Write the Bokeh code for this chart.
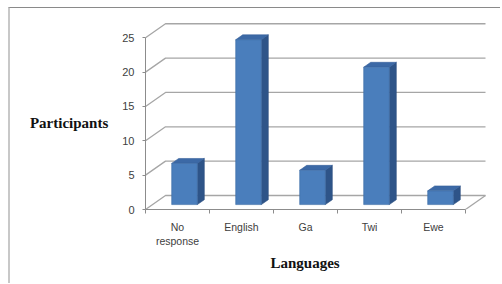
from bokeh.plotting import figure
from bokeh.models import Range1d, FixedTicker, Title
from bokeh.embed import file_html
from bokeh.resources import INLINE

# ---- data ----
categories = ["No response", "English", "Ga", "Twi", "Ewe"]
participants = [6, 24, 5, 20, 2]
y_ticks = [0, 5, 10, 15, 20, 25]
x_tick_labels = ["No\nresponse", "English", "Ga", "Twi", "Ewe"]
x_title = "Languages"
y_title = "Participants"

# ---- geometry (3D look) ----
PX_PER_CAT = 64.0
PX_PER_UNIT = 6.87
FRAME_W = 347
FRAME_H = 193
DX = 20 / PX_PER_CAT      # depth offset of back wall (data units)
DY = 14 / PX_PER_UNIT
F0, F1 = 0.35, 0.70       # bar depth fractions
BW = 0.40                 # bar width in category units
n = len(categories)

p = figure(width=492, height=276, output_backend="svg", toolbar_location=None,
           x_range=Range1d(0, FRAME_W / PX_PER_CAT),
           y_range=Range1d(0, FRAME_H / PX_PER_UNIT),
           min_border_left=135, min_border_right=10, min_border_top=8,
           min_border_bottom=75)
p.styles = {"margin-left": "8px", "margin-top": "7px",
            "border-top": "1px solid #8a8a8a", "border-left": "2px solid #c8c8c8"}
p.outline_line_color = None
p.background_fill_color = "white"
p.border_fill_color = "white"
p.xgrid.visible = False
p.ygrid.visible = False

# walls / gridlines
gx = [[0, DX, n + DX] for v in y_ticks]
gy = [[v, v + DY, v + DY] for v in y_ticks]
gx.append([n, n + DX])
gy.append([0, DY])
p.multi_line(gx, gy, line_color="#a6a6a6", line_width=1.3)

# bars
fx, fy, sx, sy, tx, ty = [], [], [], [], [], []
ddx = (F1 - F0) * DX
ddy = (F1 - F0) * DY
for i, v in enumerate(participants):
    x0 = i + 0.5 - BW / 2 + F0 * DX
    x1 = x0 + BW
    y0 = F0 * DY
    y1 = y0 + v
    fx.append([x0, x1, x1, x0]); fy.append([y0, y0, y1, y1])
    sx.append([x1, x1 + ddx, x1 + ddx, x1]); sy.append([y0, y0 + ddy, y1 + ddy, y1])
    tx.append([x0, x1, x1 + ddx, x0 + ddx]); ty.append([y1, y1, y1 + ddy, y1 + ddy])
p.patches(sx, sy, fill_color="#2e5488", line_color="#2a4e7e", line_width=0.6)
p.patches(tx, ty, fill_color="#3c69a6", line_color="#35609a", line_width=0.6)
p.patches(fx, fy, fill_color="#4a7ebc", line_color="#3b6aa4", line_width=0.6)

# axes
ax = p.xaxis[0]
ax.ticker = FixedTicker(ticks=[i + 0.5 for i in range(n)], minor_ticks=list(range(n + 1)))
ax.major_label_overrides = {i + 0.5: lab for i, lab in enumerate(x_tick_labels)}
ax.bounds = (0, n)
ax.axis_line_color = "#8c8c8c"
ax.major_tick_line_color = None
ax.major_tick_out = 0
ax.major_tick_in = 0
ax.minor_tick_line_color = "#8c8c8c"
ax.minor_tick_out = 4
ax.minor_tick_in = 0
ax.major_label_standoff = 7
ax.major_label_text_font = "Liberation Sans"
ax.major_label_text_font_size = "10.5px"
ax.major_label_text_color = "#404040"

ay = p.yaxis[0]
ay.ticker = FixedTicker(ticks=y_ticks, minor_ticks=[])
ay.bounds = (0, 25)
ay.axis_line_color = "#8c8c8c"
ay.major_tick_line_color = "#8c8c8c"
ay.major_tick_out = 3
ay.major_tick_in = 0
ay.major_label_standoff = 8
ay.major_label_text_font = "Liberation Sans"
ay.major_label_text_font_size = "11px"
ay.major_label_text_color = "#404040"
ay.axis_label = "\n" + y_title
ay.axis_label_orientation = "horizontal"
ay.axis_label_standoff = 11
ay.axis_label_text_font = "Liberation Serif"
ay.axis_label_text_font_style = "bold"
ay.axis_label_text_font_size = "15px"
ay.axis_label_text_color = "#111111"

# x title below the axis
p.add_layout(Title(text=x_title, align="left", offset=125, standoff=6,
                   text_font="Liberation Serif", text_font_style="bold",
                   text_font_size="15px", text_color="#111111"), "below")

open("out.html", "w").write(file_html(p, INLINE))
